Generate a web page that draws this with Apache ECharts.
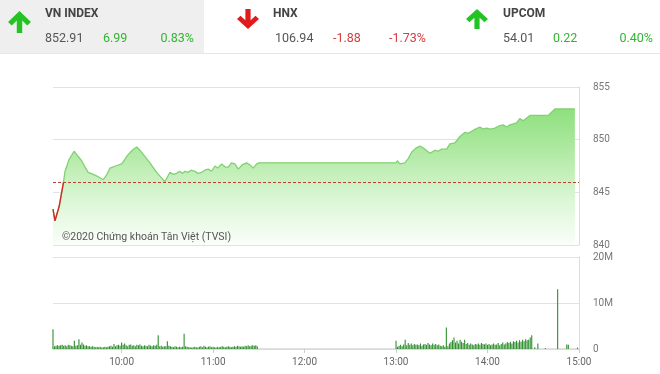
<!DOCTYPE html>
<html><head><meta charset="utf-8">
<script src="https://cdn.jsdelivr.net/npm/echarts@6/dist/echarts.min.js"></script>
<style>html,body{margin:0;padding:0;background:#fff}#c{width:660px;height:374px}</style>
</head><body><div id="c"></div>
<script>
// ---- Header data ----
const indexNames = ['VN INDEX', 'HNX', 'UPCOM'];
const indexValues = ['852.91', '106.94', '54.01'];
const indexChanges = ['6.99', '-1.88', '0.22'];
const indexPercents = ['0.83%', '-1.73%', '0.40%'];
const indexUp = [true, false, true];

// ---- Price line (minutes since midnight, index value) ----
const priceTimes = [555,556.3,559.1,561.8,562.9,565.5,568.8,571,573.8,576,578.1,581.4,584.5,588,590,592.4,596,600,602,604.4,607,609.9,612,614.2,618.6,621,623,626,628.4,631.7,634,636.1,638,640,641.5,643.7,645.5,648.1,650,652.5,654.5,656.8,659,661.2,663,665.6,668,670,672,674.3,676.5,679,682,684.2,686.3,688.6,690,780,780.8,782.5,785.8,788,790.2,793,795.7,798.9,802.2,805.5,807.5,809.9,813.2,815.3,818.6,821.9,825.2,827.5,829.6,832,835,837,839.4,842,844.8,847.5,850.3,852.5,854.7,856.9,859,861.2,863.4,867.8,872,879.8,884.2,897.3];
const priceValues = [843.4,842.3,843.7,845.9,847.0,848.1,848.9,848.5,848.0,847.4,846.9,846.7,846.5,846.2,846.6,847.3,847.5,847.7,848.1,848.6,849.0,849.3,849.0,848.6,847.8,847.3,846.9,846.4,846.0,846.9,846.7,846.8,847.0,846.8,847.0,846.9,847.1,847.0,846.8,846.9,847.1,847.2,847.0,847.5,847.3,847.7,847.4,847.4,847.8,847.7,847.2,847.6,847.8,847.6,847.3,847.7,847.8,847.8,848.0,847.7,847.8,848.2,848.8,849.2,849.4,849.1,848.7,849.0,848.9,849.1,849.1,849.6,849.7,850.3,850.7,850.6,850.8,851.0,851.2,851.0,851.1,851.0,851.1,851.3,851.4,851.2,851.4,851.5,851.6,852.0,851.8,852.3,852.3,852.3,852.91,852.91];
const refPrice = 845.92;
const belowRefCount = 4; // first points, drawn red (below reference)

// ---- Volume (millions), one bar per minute ----
const volMorningStart = 555;
const volMorning = [
 4.3,0.6,0.7,0.8,0.7,0.8,0.9,0.7,0.8,0.6,0.9,0.8,0.7,0.6,1.8,
 0.7,0.8,2.1,0.9,1.4,1.0,0.7,0.8,0.6,0.6,0.5,0.6,0.5,0.4,0.5,
 0.4,0.5,0.3,0.4,0.5,0.4,0.5,0.6,0.7,0.5,1.1,0.6,0.8,0.9,0.7,
 1.4,0.9,1.2,0.8,0.6,0.9,1.0,0.7,0.8,0.6,0.9,0.8,1.0,0.7,0.6,
 0.8,0.7,0.6,0.9,0.7,0.6,0.8,0.7,0.9,3.0,0.6,0.7,0.5,0.6,0.6,
 1.7,0.7,0.6,0.5,0.4,0.6,0.5,0.4,0.5,0.4,0.5,3.3,0.6,0.5,0.4,
 0.4,0.3,0.4,0.5,0.4,0.3,0.5,0.6,0.4,0.7,0.5,0.4,0.5,0.6,0.4,
 0.5,0.4,0.3,0.5,0.4,0.5,0.6,0.5,0.4,0.5,0.6,0.5,0.4,0.5,0.6,
 0.5,0.7,0.6,0.5,0.6,0.5,0.7,0.6,0.8,0.6,0.7,0.8,0.7,0.8,0.6
];
const volAfternoonStart = 780;
const volAfternoon = [
 1.8,0.5,0.7,0.9,0.6,1.0,2.0,0.8,1.3,0.9,1.2,0.8,1.1,0.9,1.0,
 0.8,1.2,0.7,1.0,1.1,0.9,1.3,1.0,0.8,1.2,0.9,1.1,0.8,1.0,0.7,
 0.6,0.8,0.5,4.7,0.6,1.2,1.5,1.9,2.5,1.4,1.8,1.2,2.0,1.6,1.3,
 2.0,1.1,1.3,0.9,1.2,1.0,0.8,1.1,1.0,1.2,0.9,1.3,1.1,1.0,1.2,
 0.9,1.1,0.8,1.0,1.2,0.9,1.0,1.3,0.8,1.1,1.4,1.0,1.2,1.5,1.3,
 1.6,1.2,1.7,1.5,1.8,1.4,1.9,1.6,2.0,1.7,2.1,1.9,2.0,2.5,3.0
];
const volLateTimes = [871, 873, 878, 886, 892, 893, 899];
const volLateValues = [0.4, 1.2, 0.2, 13.0, 1.0, 0.9, 0.3];

// ---- Axis ticks ----
const timeTicks = [600, 660, 720, 780, 840, 900];
const priceTicks = { min: 840, max: 855, interval: 5 };
const volTicks = { min: 0, max: 20, interval: 10 };
const watermark = '©2020 Chứng khoán Tân Việt (TVSI)';

// ---- Build ----
const priceData = priceTimes.map((t, i) => [t, priceValues[i]]);
const redData = priceData.slice(0, belowRefCount);
const volData = [];
volMorning.forEach((v, i) => volData.push([volMorningStart + i, v]));
volAfternoon.forEach((v, i) => volData.push([volAfternoonStart + i, v]));
volLateTimes.forEach((t, i) => volData.push([t, volLateValues[i]]));

const fmtTime = m => { const h = Math.floor(m / 60), mm = m % 60; return h + ':' + (mm < 10 ? '0' : '') + mm; };

// arrow outline in a 24x24 box (decoration)
const arrowUp = [[12,1],[23,12],[19.5,15.5],[14.6,10.6],[14.6,23],[9.4,23],[9.4,10.6],[4.5,15.5],[1,12]];
function arrowPoints(box, up) {
  return arrowUp.map(p => [box[0] + p[0] / 24 * box[2], box[1] + (up ? p[1] : 24 - p[1]) / 24 * box[3]]);
}

const titleX = [45, 273, 503];
const valX = [45, 275, 503];
const chgX = [103, 333, 553];
const pctRight = [194, 426, 653];
const arrowBox = [[7, 10, 25, 24], [236, 8, 24, 22], [465, 8, 24, 22]];

const graphics = [
  { type: 'rect', shape: { x: 0, y: 0, width: 204, height: 53 }, style: { fill: '#efefef' }, z: 0 },
  { type: 'line', shape: { x1: 0, y1: 53.5, x2: 660, y2: 53.5 }, style: { stroke: '#e6e6e6', lineWidth: 1 } }
];
indexNames.forEach((n, i) => {
  const up = indexUp[i];
  graphics.push({ type: 'polygon', shape: { points: arrowPoints(arrowBox[i], up) }, style: { fill: up ? '#22c322' : '#e11b1b' } });
  graphics.push({ type: 'text', x: titleX[i], y: 14, style: { text: n, font: 'bold 12px Roboto', fill: '#444', verticalAlign: 'middle' } });
  graphics.push({ type: 'text', x: valX[i], y: 39, style: { text: indexValues[i], font: '12.5px Roboto', fill: '#555', verticalAlign: 'middle' } });
  graphics.push({ type: 'text', x: chgX[i], y: 39, style: { text: indexChanges[i], font: '12.5px Roboto', fill: up ? '#33b533' : '#d24040', verticalAlign: 'middle' } });
  graphics.push({ type: 'text', x: pctRight[i], y: 39, style: { text: indexPercents[i], font: '12.5px Roboto', fill: up ? '#33b533' : '#d24040', verticalAlign: 'middle', align: 'right' } });
});
graphics.push({ type: 'text', x: 62, y: 237, style: { text: watermark, font: '10.5px Roboto', fill: '#555', verticalAlign: 'middle' }, z: 10 });

const chart = echarts.init(document.getElementById('c'), null, { renderer: 'canvas' });
chart.setOption({
  animation: false,
  textStyle: { fontFamily: 'Roboto' },
  graphic: graphics,
  grid: [
    { left: 53, right: 81, top: 87, height: 158 },
    { left: 53, right: 81, top: 257, height: 92 }
  ],
  xAxis: [
    { type: 'value', gridIndex: 0, min: 555, max: 900, axisLine: { show: false }, axisTick: { show: false }, axisLabel: { show: false }, splitLine: { show: false } },
    { type: 'value', gridIndex: 1, min: 555, max: 900,
      axisLine: { show: true, lineStyle: { color: '#d8d8d8', width: 1.5 } },
      axisTick: { show: true, customValues: timeTicks, length: 4, lineStyle: { color: '#ccc' } },
      axisLabel: { customValues: timeTicks, formatter: v => fmtTime(v), color: '#666', fontSize: 10, margin: 8 },
      splitLine: { show: false } }
  ],
  yAxis: [
    { type: 'value', gridIndex: 0, position: 'right', min: priceTicks.min, max: priceTicks.max, interval: priceTicks.interval,
      axisLine: { show: true, lineStyle: { color: '#dcdcdc' } }, axisTick: { show: false },
      axisLabel: { color: '#777', fontSize: 10, margin: 14 },
      splitLine: { show: true, lineStyle: { color: '#e2e2e2' } } },
    { type: 'value', gridIndex: 1, position: 'right', min: volTicks.min, max: volTicks.max, interval: volTicks.interval,
      axisLine: { show: true, lineStyle: { color: '#dcdcdc' } }, axisTick: { show: false },
      axisLabel: { color: '#777', fontSize: 10, margin: 14, formatter: v => v === 0 ? '0' : v + 'M' },
      splitLine: { show: true, lineStyle: { color: '#e2e2e2' } } }
  ],
  series: [
    { type: 'line', xAxisIndex: 0, yAxisIndex: 0, data: priceData, showSymbol: false, symbol: 'none',
      lineStyle: { width: 1.3, color: '#82d173' },
      areaStyle: { origin: 'start', opacity: 1, color: { type: 'linear', x: 0, y: 0, x2: 0, y2: 1, colorStops: [
        { offset: 0, color: '#8fe07e' }, { offset: 0.35, color: '#b4eba8' }, { offset: 0.65, color: '#d9f6d3' }, { offset: 1, color: '#fbfefa' }] } },
      markLine: { silent: true, symbol: 'none', label: { show: false },
        lineStyle: { color: '#b8402c', type: [3, 2], width: 1 }, data: [{ yAxis: refPrice }] },
      z: 2 },
    { type: 'line', xAxisIndex: 0, yAxisIndex: 0, data: redData, showSymbol: false, symbol: 'none',
      lineStyle: { width: 1.4, color: '#d42a2a' }, z: 3 },
    { type: 'bar', xAxisIndex: 1, yAxisIndex: 1, data: volData, barWidth: 1.1, itemStyle: { color: '#2f8f2f' }, z: 2 }
  ]
});
</script></body></html>
